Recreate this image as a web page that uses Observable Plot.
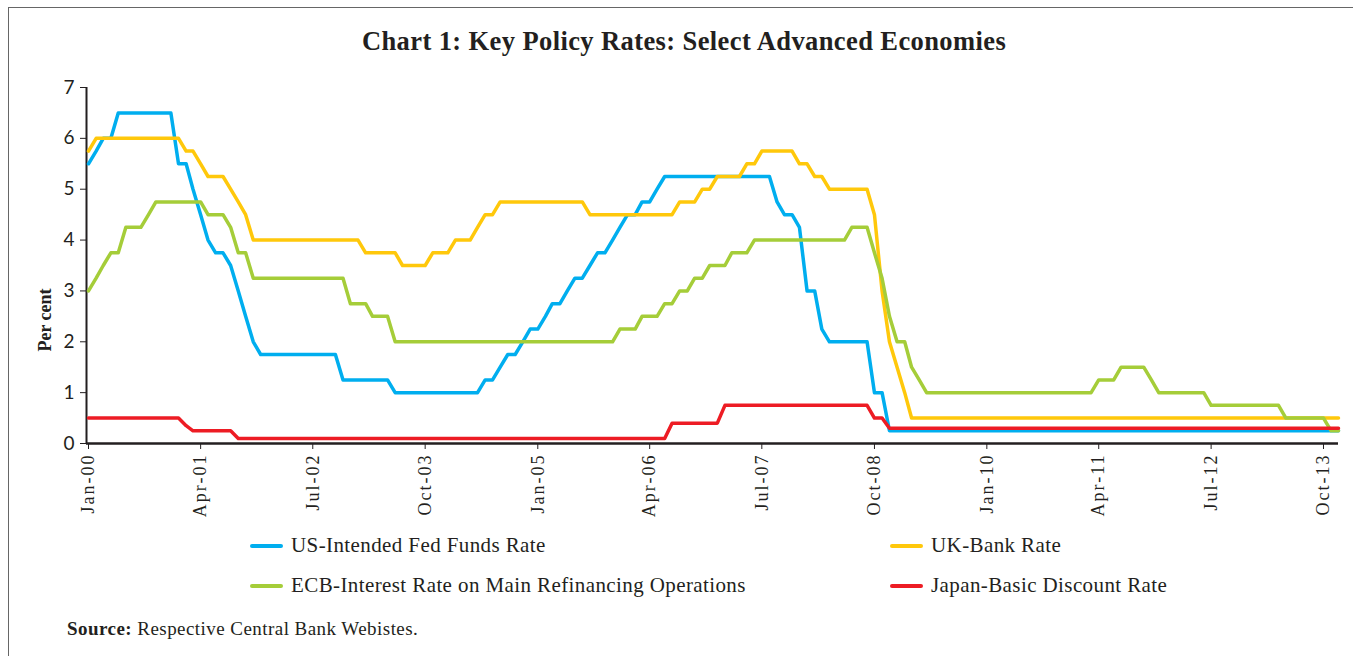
<!DOCTYPE html>
<html>
<head>
<meta charset="utf-8">
<script src="https://cdn.jsdelivr.net/npm/d3@7"></script>
<script src="https://cdn.jsdelivr.net/npm/@observablehq/plot@0.6"></script>
<style>
  html, body { margin: 0; padding: 0; background: #fff; overflow: hidden; }
  #wrap { position: relative; width: 1353px; height: 656px; overflow: hidden; }
  #border { position: absolute; left: 8px; top: 7px; width: 1400px; height: 700px; border: 1px solid #666; box-sizing: border-box; }
  #title { position: absolute; left: 0; width: 1368px; top: 26px; text-align: center; font-family: "Liberation Serif", serif; font-weight: bold; font-size: 26.5px; letter-spacing: 0.4px; color: #231f20; }
  #chart { position: absolute; left: 0; top: 0; }
  #chart g[aria-label="x-axis tick label"] { font-size: 18px; letter-spacing: 2px; font-family: "Liberation Serif", serif; }
  #ylabel { position: absolute; left: 45px; top: 320px; transform: translate(-50%, -50%) rotate(-90deg); font-family: "Liberation Serif", serif; font-weight: bold; font-size: 18px; color: #231f20; white-space: nowrap; }
  .leg { position: absolute; font-family: "Liberation Serif", serif; font-size: 21px; letter-spacing: 0.4px; color: #231f20; white-space: nowrap; }
  .sw { display: inline-block; width: 33px; height: 4px; border-radius: 2px; vertical-align: middle; margin-right: 8px; position: relative; top: -1px; }
  #source { position: absolute; left: 67px; top: 618px; font-family: "Liberation Serif", serif; font-size: 19px; letter-spacing: 0.45px; color: #231f20; }
</style>
</head>
<body>
<div id="wrap">
  <div id="border"></div>
  <div id="title"></div>
  <div id="chart"></div>
  <div id="ylabel"></div>
  <div id="legend"></div>
  <div id="source"><b>Source:</b> Respective Central Bank Webistes.</div>
</div>
<script>
// Monthly values, Jan-2000 .. Dec-2013 (one row per year)
const usRate = [
  5.5,5.75,6,6,6.5,6.5,6.5,6.5,6.5,6.5,6.5,6.5,
  5.5,5.5,5,4.5,4,3.75,3.75,3.5,3,2.5,2,1.75,
  1.75,1.75,1.75,1.75,1.75,1.75,1.75,1.75,1.75,1.75,1.25,1.25,
  1.25,1.25,1.25,1.25,1.25,1,1,1,1,1,1,1,
  1,1,1,1,1,1.25,1.25,1.5,1.75,1.75,2,2.25,
  2.25,2.5,2.75,2.75,3,3.25,3.25,3.5,3.75,3.75,4,4.25,
  4.5,4.5,4.75,4.75,5,5.25,5.25,5.25,5.25,5.25,5.25,5.25,
  5.25,5.25,5.25,5.25,5.25,5.25,5.25,5.25,4.75,4.5,4.5,4.25,
  3,3,2.25,2,2,2,2,2,2,1,1,0.25,
  0.25,0.25,0.25,0.25,0.25,0.25,0.25,0.25,0.25,0.25,0.25,0.25,
  0.25,0.25,0.25,0.25,0.25,0.25,0.25,0.25,0.25,0.25,0.25,0.25,
  0.25,0.25,0.25,0.25,0.25,0.25,0.25,0.25,0.25,0.25,0.25,0.25,
  0.25,0.25,0.25,0.25,0.25,0.25,0.25,0.25,0.25,0.25,0.25,0.25,
  0.25,0.25,0.25,0.25,0.25,0.25,0.25,0.25,0.25,0.25,0.25,0.25
];
const ukRate = [
  5.75,6,6,6,6,6,6,6,6,6,6,6,
  6,5.75,5.75,5.5,5.25,5.25,5.25,5,4.75,4.5,4,4,
  4,4,4,4,4,4,4,4,4,4,4,4,
  4,3.75,3.75,3.75,3.75,3.75,3.5,3.5,3.5,3.5,3.75,3.75,
  3.75,4,4,4,4.25,4.5,4.5,4.75,4.75,4.75,4.75,4.75,
  4.75,4.75,4.75,4.75,4.75,4.75,4.75,4.5,4.5,4.5,4.5,4.5,
  4.5,4.5,4.5,4.5,4.5,4.5,4.5,4.75,4.75,4.75,5,5,
  5.25,5.25,5.25,5.25,5.5,5.5,5.75,5.75,5.75,5.75,5.75,5.5,
  5.5,5.25,5.25,5,5,5,5,5,5,4.5,3,2,
  1.5,1,0.5,0.5,0.5,0.5,0.5,0.5,0.5,0.5,0.5,0.5,
  0.5,0.5,0.5,0.5,0.5,0.5,0.5,0.5,0.5,0.5,0.5,0.5,
  0.5,0.5,0.5,0.5,0.5,0.5,0.5,0.5,0.5,0.5,0.5,0.5,
  0.5,0.5,0.5,0.5,0.5,0.5,0.5,0.5,0.5,0.5,0.5,0.5,
  0.5,0.5,0.5,0.5,0.5,0.5,0.5,0.5,0.5,0.5,0.5,0.5
];
const ecbRate = [
  3,3.25,3.5,3.75,3.75,4.25,4.25,4.25,4.5,4.75,4.75,4.75,
  4.75,4.75,4.75,4.75,4.5,4.5,4.5,4.25,3.75,3.75,3.25,3.25,
  3.25,3.25,3.25,3.25,3.25,3.25,3.25,3.25,3.25,3.25,3.25,2.75,
  2.75,2.75,2.5,2.5,2.5,2,2,2,2,2,2,2,
  2,2,2,2,2,2,2,2,2,2,2,2,
  2,2,2,2,2,2,2,2,2,2,2,2.25,
  2.25,2.25,2.5,2.5,2.5,2.75,2.75,3,3,3.25,3.25,3.5,
  3.5,3.5,3.75,3.75,3.75,4,4,4,4,4,4,4,
  4,4,4,4,4,4,4.25,4.25,4.25,3.75,3.25,2.5,
  2,2,1.5,1.25,1,1,1,1,1,1,1,1,
  1,1,1,1,1,1,1,1,1,1,1,1,
  1,1,1,1.25,1.25,1.25,1.5,1.5,1.5,1.5,1.25,1,
  1,1,1,1,1,1,0.75,0.75,0.75,0.75,0.75,0.75,
  0.75,0.75,0.75,0.75,0.5,0.5,0.5,0.5,0.5,0.5,0.25,0.25
];
const japanRate = [
  0.5,0.5,0.5,0.5,0.5,0.5,0.5,0.5,0.5,0.5,0.5,0.5,
  0.5,0.35,0.25,0.25,0.25,0.25,0.25,0.25,0.1,0.1,0.1,0.1,
  0.1,0.1,0.1,0.1,0.1,0.1,0.1,0.1,0.1,0.1,0.1,0.1,
  0.1,0.1,0.1,0.1,0.1,0.1,0.1,0.1,0.1,0.1,0.1,0.1,
  0.1,0.1,0.1,0.1,0.1,0.1,0.1,0.1,0.1,0.1,0.1,0.1,
  0.1,0.1,0.1,0.1,0.1,0.1,0.1,0.1,0.1,0.1,0.1,0.1,
  0.1,0.1,0.1,0.1,0.1,0.1,0.4,0.4,0.4,0.4,0.4,0.4,
  0.4,0.75,0.75,0.75,0.75,0.75,0.75,0.75,0.75,0.75,0.75,0.75,
  0.75,0.75,0.75,0.75,0.75,0.75,0.75,0.75,0.75,0.5,0.5,0.3,
  0.3,0.3,0.3,0.3,0.3,0.3,0.3,0.3,0.3,0.3,0.3,0.3,
  0.3,0.3,0.3,0.3,0.3,0.3,0.3,0.3,0.3,0.3,0.3,0.3,
  0.3,0.3,0.3,0.3,0.3,0.3,0.3,0.3,0.3,0.3,0.3,0.3,
  0.3,0.3,0.3,0.3,0.3,0.3,0.3,0.3,0.3,0.3,0.3,0.3,
  0.3,0.3,0.3,0.3,0.3,0.3,0.3,0.3,0.3,0.3,0.3,0.3
];
const seriesNames = [
  "US-Intended Fed Funds Rate",
  "UK-Bank Rate",
  "ECB-Interest Rate on Main Refinancing Operations",
  "Japan-Basic Discount Rate"
];
const seriesColors = ["#00AEEF", "#FFC80B", "#A5CD39", "#ED1C24"];
const xTickLabels = ["Jan-00","Apr-01","Jul-02","Oct-03","Jan-05","Apr-06","Jul-07","Oct-08","Jan-10","Apr-11","Jul-12","Oct-13"];
const yTicks = [0,1,2,3,4,5,6,7];
const titleText = "Chart 1: Key Policy Rates: Select Advanced Economies";
const yLabel = "Per cent";

document.getElementById("title").textContent = titleText;
document.getElementById("ylabel").textContent = yLabel;

const startMonth = new Date(Date.UTC(2000, 0, 1));
const parseLabel = d3.utcParse("%b-%y");
const allSeries = [usRate, ukRate, ecbRate, japanRate];
const rows = [];
allSeries.forEach((vals, s) => {
  vals.forEach((v, i) => rows.push({date: d3.utcMonth.offset(startMonth, i), value: v, series: seriesNames[s]}));
});
const endMonth = d3.utcMonth.offset(startMonth, usRate.length - 1);
const xTicks = xTickLabels.map(parseLabel);

const fontTick = "Liberation Serif, serif";
const chart = Plot.plot({
  width: 1353,
  height: 540,
  marginTop: 87,
  marginBottom: 97,
  marginLeft: 86,
  marginRight: 15,
  style: {background: "transparent", color: "#231f20"},
  x: {type: "utc", domain: [startMonth, endMonth], range: [88, 1338]},
  y: {domain: [0, 7]},
  color: {domain: seriesNames, range: seriesColors},
  marks: [
    Plot.axisY({ticks: yTicks, tickFormat: d => String(d), tickSize: 6, tickPadding: 6, fontSize: 19, fontFamily: "Lato, sans-serif", label: null, stroke: "#231f20"}),
    Plot.axisX({ticks: xTicks, tickFormat: d3.utcFormat("%b-%y"), tickRotate: -90, tickSize: 6, tickPadding: 4, fontSize: 18, fontFamily: fontTick, label: null, stroke: "#231f20"}),
    Plot.ruleX([startMonth], {stroke: "#231f20", strokeWidth: 2, dx: -2}),
    Plot.ruleY([0], {stroke: "#231f20", strokeWidth: 2.5}),
    Plot.line(rows, {x: "date", y: "value", z: "series", stroke: "series", strokeWidth: 3.5, strokeLinejoin: "round", strokeLinecap: "round"})
  ]
});
document.getElementById("chart").appendChild(chart);

// Legend
const legendPos = [
  {left: 250, top: 533}, {left: 890, top: 533},
  {left: 250, top: 573}, {left: 890, top: 573}
];
const legend = document.getElementById("legend");
seriesNames.forEach((name, i) => {
  const d = document.createElement("div");
  d.className = "leg";
  d.style.left = legendPos[i].left + "px";
  d.style.top = legendPos[i].top + "px";
  const sw = document.createElement("span");
  sw.className = "sw";
  sw.style.background = seriesColors[i];
  d.appendChild(sw);
  d.appendChild(document.createTextNode(name));
  legend.appendChild(d);
});
</script>
</body>
</html>
